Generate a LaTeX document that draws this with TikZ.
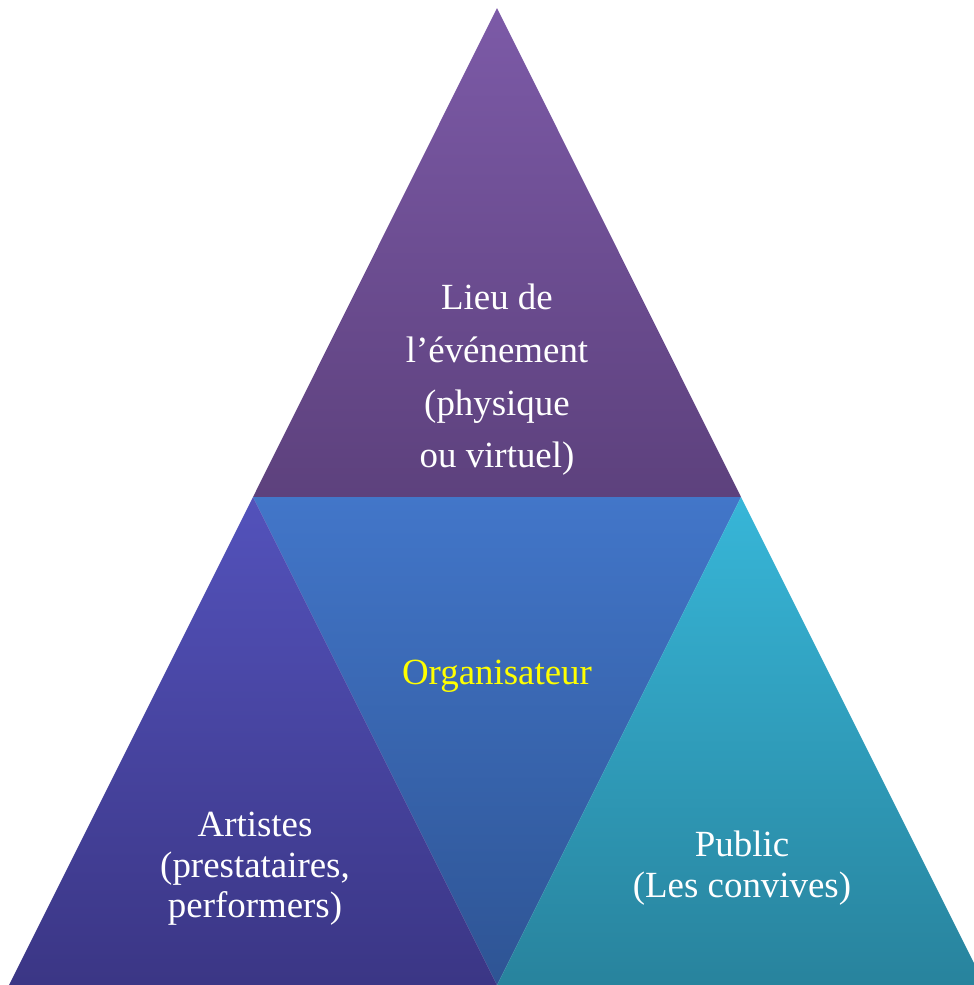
\documentclass[tikz,border=0pt]{standalone}
\usepackage{fontspec}
\setmainfont{Liberation Serif}
\definecolor{lieutop}{HTML}{7C5AA7}
\definecolor{lieubot}{HTML}{5D417D}
\definecolor{orgatop}{HTML}{4276C9}
\definecolor{orgabot}{HTML}{2E5494}
\definecolor{arttop}{HTML}{5352BB}
\definecolor{artbot}{HTML}{3B3685}
\definecolor{pubtop}{HTML}{37B6D8}
\definecolor{pubbot}{HTML}{28839D}
\definecolor{orgatext}{HTML}{FFFF00}
\tikzset{
  label/.style={text=white,align=center,font=\fontsize{21}{30}\selectfont},
  labeltight/.style={label,font=\fontsize{21}{23}\selectfont}
}

\begin{document}
\begin{tikzpicture}[x=0.02cm,y=-0.02cm]
    \useasboundingbox (0,0) rectangle (974,985);
    \clip (0,0) rectangle (974,985);
    % Corners of the pyramid
    \coordinate (apex) at (497,8);
    \coordinate (ml) at (253,497);
    \coordinate (mr) at (741,497);
    \coordinate (bl) at (9,985);
    \coordinate (bm) at (497,985);
    \coordinate (br) at (985,985);
    % Four triangles
    \shade[top color=lieutop,bottom color=lieubot] (apex) -- (ml) -- (mr) -- cycle;
    \shade[top color=orgatop,bottom color=orgabot] (ml) -- (mr) -- (bm) -- cycle;
    \shade[top color=arttop,bottom color=artbot] (ml) -- (bl) -- (bm) -- cycle;
    \shade[top color=pubtop,bottom color=pubbot] (mr) -- (bm) -- (br) -- cycle;
    % Labels
    \node[label] (lieu) at (497,380)
        {Lieu de\\l’événement\\(physique\\ou virtuel)};
    \node[label,text=orgatext] (orga) at (497,676) {Organisateur};
    \node[labeltight] (artistes) at (255,869)
        {Artistes\\(prestataires,\\performers)};
    \node[labeltight] (public) at (742,868) {Public\\(Les convives)};
\end{tikzpicture}
\end{document}
